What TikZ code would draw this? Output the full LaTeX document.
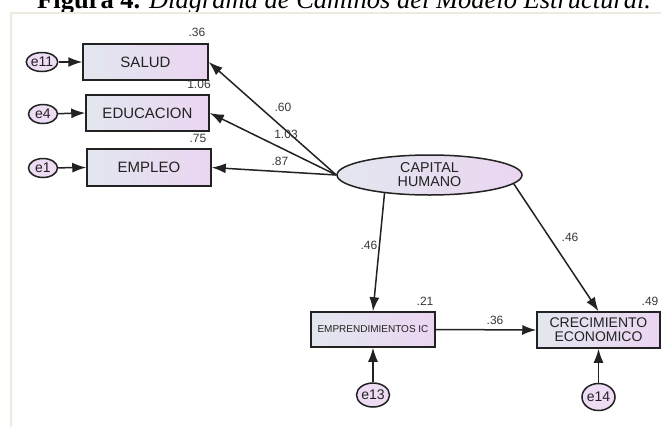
\documentclass[tikz,border=0pt]{standalone}
\usepackage{fontspec}
\setmainfont{Liberation Sans}
\newfontfamily\titlefont{Liberation Serif}
\usetikzlibrary{shapes.geometric,arrows.meta}
\definecolor{boxL}{HTML}{E2E7EF}
\definecolor{boxR}{HTML}{EBD5F1}
\definecolor{errF}{HTML}{EDDCF3}
\definecolor{frameC}{HTML}{EEEADF}
\definecolor{ink}{HTML}{222222}
\begin{document}
\begin{tikzpicture}[x=1pt,y=-1pt,
 box/.style={draw=ink, line width=1.5pt, rectangle, left color=boxL, right color=boxR, inner sep=0pt, text=ink, font=\fontsize{15}{16}\selectfont},
 err/.style={draw=ink, line width=1.5pt, ellipse, fill=errF, inner sep=0pt, text=ink, font=\fontsize{14}{15}\selectfont},
 arr/.style={line width=1.5pt, draw=ink, -{Latex[length=14pt,width=10pt]}},
 num/.style={font=\fontsize{12}{13}\selectfont, text=ink!90, inner sep=0pt}]
\useasboundingbox (0,0) rectangle (661,426);
\clip (0,0) rectangle (661,426);
\fill[white] (0,0) rectangle (661,426);
% title (top cut off, as in the reference)
\node[anchor=base west, inner sep=0pt, font=\titlefont\fontsize{26.5}{28}\selectfont] (title) at (37,8.5) {\textbf{Figura 4.} \textit{Diagrama de Caminos del Modelo Estructural.}};
% frame
\draw[frameC, line width=2pt] (11,430) -- (11,13) -- (665,13);
% observed variables
\node[box, minimum width=125pt, minimum height=36pt] (salud) at (145.5,62) {SALUD};
\node[box, minimum width=123pt, minimum height=36pt] (edu) at (147.5,113) {EDUCACION};
\node[box, minimum width=124pt, minimum height=37pt] (empleo) at (149,167.5) {EMPLEO};
\node[box, minimum width=124pt, minimum height=35pt, font=\fontsize{10}{11}\selectfont] (empr) at (373,329.5) {EMPRENDIMIENTOS IC};
\node[box, minimum width=123pt, minimum height=36pt, font=\fontsize{14}{15}\selectfont, align=center] (crec) at (598.5,330) {CRECIMIENTO\\[-1pt]ECONOMICO};
% latent
\node[draw=ink, line width=1.5pt, ellipse, left color=boxL, right color=boxR, inner sep=0pt, minimum width=185pt, minimum height=40pt, align=center, text=ink, font=\fontsize{14.3}{15}\selectfont] (cap) at (429.5,175) {CAPITAL\\[-1pt]HUMANO};
% errors
\node[err, minimum width=29pt, minimum height=19pt] (e11) at (42,62) {e11};
\node[err, minimum width=29pt, minimum height=19pt] (e4) at (43,114) {e4};
\node[err, minimum width=29pt, minimum height=19pt] (e1) at (43,168) {e1};
\node[err, minimum width=27pt, minimum height=24pt] (e13) at (373,395) {e13};
\node[err, minimum width=30pt, minimum height=27pt] (e14) at (598.5,397) {e14};
% connectors
\draw[arr] (e11) -- (salud.west);
\draw[arr] (e4) -- (edu.west);
\draw[arr] (e1) -- (empleo.west);
\draw[arr] (cap.west) -- (salud.east);
\draw[arr] (cap.west) -- (edu.east);
\draw[arr] (cap.west) -- (empleo.east);
\draw[arr] (cap.202.95) -- (empr.north);
\draw[arr] (cap.354.8) -- (crec.north);
\draw[arr] (empr.east) -- (crec.west);
\draw[arr] (e13) -- (empr.south);
\draw[arr] (e14) -- (crec.south);
% numbers
\node[num] (n1) at (197,32) {.36};
\node[num] (n2) at (199,84) {1.06};
\node[num] (n3) at (198,138) {.75};
\node[num] (n4) at (283,107) {.60};
\node[num] (n5) at (286,134) {1.03};
\node[num] (n6) at (280,161) {.87};
\node[num] (n7) at (369,245) {.46};
\node[num] (n8) at (570,237) {.46};
\node[num] (n9) at (425,301) {.21};
\node[num] (n10) at (495,320) {.36};
\node[num] (n11) at (650,301) {.49};
\end{tikzpicture}
\end{document}
